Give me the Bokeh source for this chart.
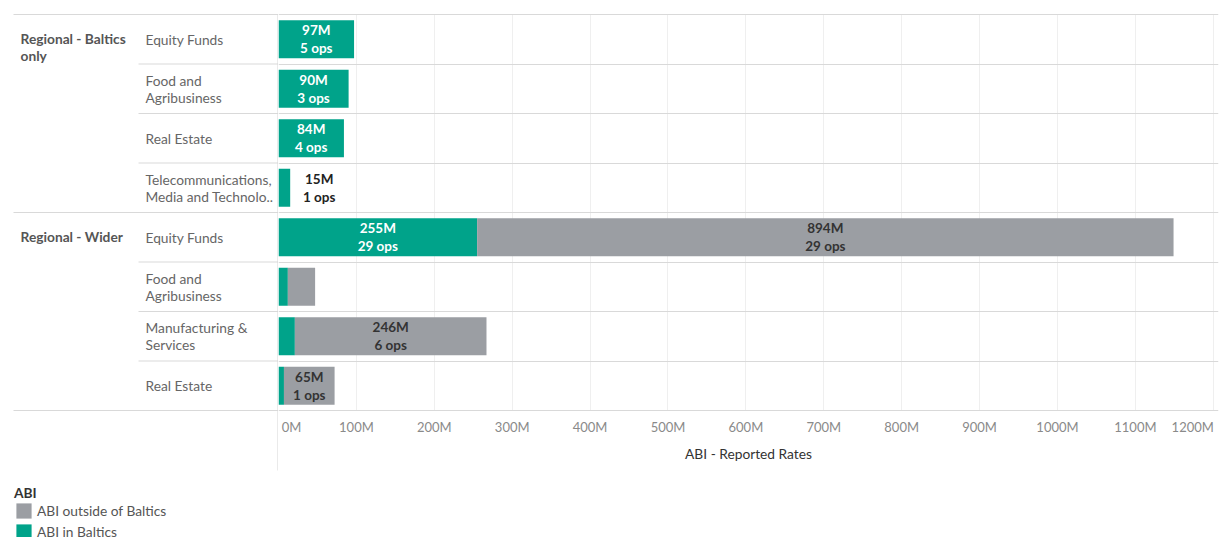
from bokeh.plotting import figure
from bokeh.layouts import row
from bokeh.models import Range1d, FixedTicker, Legend, LegendItem, ColumnDataSource
from bokeh.core.properties import value
from bokeh.embed import file_html
from bokeh.resources import INLINE

# ---------------- data ----------------
groups = ["Regional - Baltics\nonly", "Regional - Wider"]
group_sizes = [4, 4]
categories = [
    "Equity Funds",
    "Food and\nAgribusiness",
    "Real Estate",
    "Telecommunications,\nMedia and Technolo..",
    "Equity Funds",
    "Food and\nAgribusiness",
    "Manufacturing &\nServices",
    "Real Estate",
]
abi_in_baltics = [97, 90, 84, 15, 255, 12, 21, 7]
abi_outside_baltics = [0, 0, 0, 0, 894, 35, 246, 65]
ops_in_baltics = [5, 3, 4, 1, 29, None, None, None]
ops_outside_baltics = [None, None, None, None, 29, None, 6, 1]
series_names = ["ABI outside of Baltics", "ABI in Baltics"]
x_ticks = [0, 100, 200, 300, 400, 500, 600, 700, 800, 900, 1000, 1100, 1200]
x_tick_labels = ["0M", "100M", "200M", "300M", "400M", "500M", "600M",
                 "700M", "800M", "900M", "1000M", "1100M", "1200M"]
axis_title = "ABI - Reported Rates"
legend_title = "ABI"

# ---------------- style ----------------
FONT = "Lato"
GREEN = "#00a38a"
GRAY = "#9b9ea3"
SEP = "#d9d9d9"
GRID = "#efefef"
LBL_SIZE = "13.75px"
W, H = 1220, 537
LEFT_W = 278
TOP = 4
ROW_PX = 49.5
PLOT_BOTTOM = 413
X_MAX = 1206.7
n = len(categories)
y_top = -10 / ROW_PX

main_y = Range1d(y_top + (PLOT_BOTTOM - TOP) / ROW_PX, y_top)
left_y = Range1d(y_top + (H - TOP) / ROW_PX, y_top)

# ---------------- main figure ----------------
p = figure(width=W - LEFT_W, height=H, x_range=Range1d(0, X_MAX), y_range=main_y,
           output_backend="svg", toolbar_location=None, y_axis_location=None,
           min_border_left=0, min_border_right=2, min_border_top=TOP,
           min_border_bottom=H - PLOT_BOTTOM, outline_line_color=None,
           frame_align=False)

ys = [i + 0.5 for i in range(n)]
src = ColumnDataSource(dict(y=ys, abi_in=abi_in_baltics, abi_out=abi_outside_baltics))
p.hbar_stack(["abi_in", "abi_out"], y="y", height=0.77, color=[GREEN, GRAY],
             line_color=None, source=src)

# labels
in_x, in_y, in_t, in_c = [], [], [], []
out_x, out_y, out_t = [], [], []
for i in range(n):
    if ops_in_baltics[i] is not None:
        v = abi_in_baltics[i]
        txt = f"{v}M\n{ops_in_baltics[i]} ops"
        if v >= 40:
            in_x.append(v / 2); in_y.append(ys[i]); in_t.append(txt); in_c.append("#ffffff")
        else:
            out_x.append(v); out_y.append(ys[i]); out_t.append(txt)
    if ops_outside_baltics[i] is not None:
        v = abi_outside_baltics[i]
        txt = f"{v}M\n{ops_outside_baltics[i]} ops"
        in_x.append(abi_in_baltics[i] + v / 2); in_y.append(ys[i]); in_t.append(txt); in_c.append("#333333")

p.text(x="x", y="y", text="t", text_color="c",
       source=ColumnDataSource(dict(x=in_x, y=in_y, t=in_t, c=in_c)),
       text_align="center", text_baseline="middle", text_font=value(FONT),
       text_font_size="13.5px", text_font_style="bold", text_line_height=1.12)
p.text(x="x", y="y", text="t", source=ColumnDataSource(dict(x=out_x, y=out_y, t=out_t)),
       x_offset=29, text_color="#222222",
       text_align="center", text_baseline="middle", text_font=value(FONT),
       text_font_size="13.5px", text_font_style="bold", text_line_height=1.12)

# axis & grids
NBSP = "\u00a0"
overrides = {t: lab for t, lab in zip(x_ticks, x_tick_labels)}
overrides[x_ticks[0]] = NBSP * 1 + x_tick_labels[0]
overrides[x_ticks[-1]] = x_tick_labels[-1] + NBSP * 2
p.xaxis.ticker = FixedTicker(ticks=x_ticks)
p.xaxis.major_label_overrides = overrides
p.xaxis.axis_line_color = None
p.xaxis.major_tick_line_color = None
p.xaxis.minor_tick_line_color = None
p.xaxis.major_tick_in = 0
p.xaxis.major_tick_out = 0
p.xaxis.major_label_standoff = 5
p.xaxis.major_label_text_font = FONT
p.xaxis.major_label_text_font_size = "13px"
p.xaxis.major_label_text_color = "#8a8a8a"
p.xaxis.axis_label = axis_title
p.xaxis.axis_label_standoff = 7
p.xaxis.axis_label_text_font = FONT
p.xaxis.axis_label_text_font_size = LBL_SIZE
p.xaxis.axis_label_text_font_style = "normal"
p.xaxis.axis_label_text_color = "#333333"

p.xgrid.ticker = FixedTicker(ticks=x_ticks)
p.xgrid.grid_line_color = GRID
p.xgrid.cross_bounds = (0, n)
p.ygrid.ticker = FixedTicker(ticks=list(range(n + 1)))
p.ygrid.grid_line_color = SEP

# ---------------- left (labels) figure ----------------
left = figure(width=LEFT_W, height=H, x_range=Range1d(0, LEFT_W), y_range=left_y,
              output_backend="svg", toolbar_location=None,
              x_axis_location=None, y_axis_location=None,
              min_border_left=0, min_border_right=0, min_border_top=TOP,
              min_border_bottom=0, outline_line_color=None, frame_align=False)
left.xgrid.visible = False
left.ygrid.visible = False

group_starts = [sum(group_sizes[:k]) for k in range(len(groups))]
group_edges = group_starts + [n]
edges = list(range(n + 1))
left.segment(x0=[13 if e in group_edges else 138 for e in edges], y0=edges,
             x1=[LEFT_W] * len(edges), y1=edges, line_color=SEP, line_width=1)
left.segment(x0=[277.5], y0=[0], x1=[277.5], y1=[(470 - 14) / ROW_PX],
             line_color="#d4d4d4", line_width=1)

left.text(x=[145] * n, y=ys, text=categories, text_align="left", text_baseline="middle",
          text_font=value(FONT), text_font_size=LBL_SIZE, text_color="#666666",
          text_line_height=0.98)
left.text(x=[20] * len(groups), y=[s + 0.5 for s in group_starts], text=groups,
          y_offset=-9, text_align="left", text_baseline="top",
          text_font=value(FONT), text_font_size=LBL_SIZE, text_font_style="bold",
          text_color="#555555", text_line_height=0.98)

# legend proxies (same series data, hidden on this panel)
r_out = left.hbar(y=ys, right=abi_outside_baltics, height=0.77, fill_color=GRAY,
                  line_color=None, visible=False)
r_in = left.hbar(y=ys, right=abi_in_baltics, height=0.77, fill_color=GREEN,
                 line_color=None, visible=False)
legend = Legend(items=[LegendItem(label=series_names[0], renderers=[r_out]),
                       LegendItem(label=series_names[1], renderers=[r_in])],
                title=legend_title, location=(14, -4), padding=0, margin=0,
                spacing=2, glyph_width=19, glyph_height=19, label_height=19,
                label_standoff=4, label_text_font=FONT, label_text_font_size=LBL_SIZE,
                label_text_color="#555555", title_text_font=FONT,
                title_text_font_size=LBL_SIZE, title_text_font_style="bold",
                title_text_color="#333333", title_standoff=0,
                background_fill_alpha=0, border_line_alpha=0,
                inactive_fill_alpha=0)
left.add_layout(legend)

layout = row(left, p)
open("out.html", "w").write(file_html(layout, INLINE))
